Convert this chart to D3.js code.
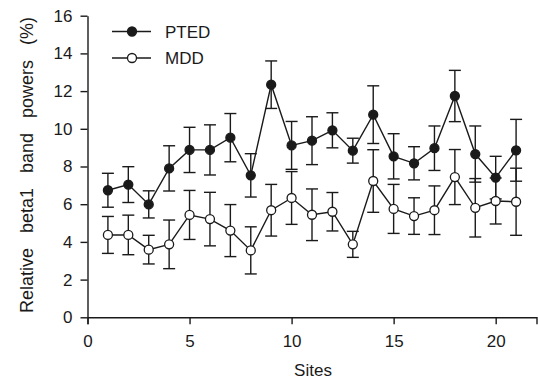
<!DOCTYPE html>
<html>
<head>
<meta charset="utf-8">
<script src="https://cdn.jsdelivr.net/npm/d3@7"></script>
<style>
  body { margin: 0; background: #fff; }
  svg text { font-family: "Liberation Sans", Arial, sans-serif; fill: #1a1a1a; }
</style>
</head>
<body>
<svg id="chart" width="538" height="381"></svg>
<script>
// values
var sites = [1, 2, 3, 4, 5, 6, 7, 8, 9, 10, 11, 12, 13, 14, 15, 16, 17, 18, 19, 20, 21];
var ptedMean = [6.74, 7.04, 5.99, 7.9, 8.88, 8.88, 9.53, 7.53, 12.34, 9.12, 9.37, 9.92, 8.84, 10.75, 8.54, 8.17, 8.97, 11.74, 8.66, 7.41, 8.86];
var ptedSE = [0.9, 0.95, 0.72, 1.2, 1.2, 1.33, 1.28, 1.15, 1.26, 1.27, 1.27, 0.93, 0.66, 1.53, 1.2, 0.88, 1.18, 1.36, 1.49, 1.13, 1.64];
var mddMean = [4.37, 4.37, 3.59, 3.87, 5.43, 5.21, 4.6, 3.55, 5.68, 6.33, 5.44, 5.6, 3.87, 7.23, 5.75, 5.37, 5.68, 7.44, 5.81, 6.17, 6.13];
var mddSE = [0.98, 1.05, 0.76, 1.29, 1.3, 1.42, 1.38, 1.25, 1.37, 1.4, 1.37, 1.02, 0.69, 1.66, 1.3, 0.97, 1.29, 1.46, 1.55, 1.22, 1.78];
var xTicks = [0, 5, 10, 15, 20];
var yTicks = [0, 2, 4, 6, 8, 10, 12, 14, 16];

var svg = d3.select("#chart");
var ink = "#1a1a1a";

var x = d3.scaleLinear().domain([0, 22]).range([87.5, 536.5]);
var y = d3.scaleLinear().domain([0, 16]).range([317.3, 15.7]);

function styleAxis(g) {
  g.selectAll("path, line").attr("stroke", ink).attr("stroke-width", 1.4);
  g.selectAll("text").attr("font-size", "17px").attr("fill", ink)
    .attr("font-family", "'Liberation Sans', Arial, sans-serif");
}

svg.append("g")
    .attr("transform", "translate(0," + y(0) + ")")
    .call(d3.axisBottom(x).tickValues(xTicks).tickSize(7).tickSizeOuter(7).tickPadding(11))
    .call(styleAxis);

svg.append("g")
    .attr("transform", "translate(" + x(0) + ",0)")
    .call(d3.axisLeft(y).tickValues(yTicks).tickSize(7).tickSizeOuter(0).tickPadding(8))
    .call(styleAxis);

var series = [
  {name: "PTED", mean: ptedMean, se: ptedSE, fill: ink},
  {name: "MDD", mean: mddMean, se: mddSE, fill: "#fff"}
];

var line = d3.line()
    .x(function(d) { return x(d[0]); })
    .y(function(d) { return y(d[1]); });

series.forEach(function(s) {
  var pts = sites.map(function(site, i) { return [site, s.mean[i], s.se[i]]; });
  var g = svg.append("g");

  g.append("path")
      .attr("d", line(pts))
      .attr("fill", "none")
      .attr("stroke", ink)
      .attr("stroke-width", 1.4);

  var bars = g.selectAll(".err")
    .data(pts)
    .enter().append("g");
  bars.append("line")
      .attr("x1", function(d) { return x(d[0]); })
      .attr("x2", function(d) { return x(d[0]); })
      .attr("y1", function(d) { return y(d[1] - d[2]); })
      .attr("y2", function(d) { return y(d[1] + d[2]); });
  [-1, 1].forEach(function(sign) {
    bars.append("line")
        .attr("x1", function(d) { return x(d[0]) - 6; })
        .attr("x2", function(d) { return x(d[0]) + 6; })
        .attr("y1", function(d) { return y(d[1] + sign * d[2]); })
        .attr("y2", function(d) { return y(d[1] + sign * d[2]); });
  });
  bars.selectAll("line").attr("stroke", ink).attr("stroke-width", 1.4);
});

// markers go on top of everything
series.forEach(function(s) {
  svg.append("g").selectAll("circle")
    .data(sites)
    .enter().append("circle")
      .attr("cx", function(d) { return x(d); })
      .attr("cy", function(d, i) { return y(s.mean[i]); })
      .attr("r", 4.5)
      .attr("fill", s.fill)
      .attr("stroke", ink)
      .attr("stroke-width", 1.3);
});

// legend
var legend = svg.append("g").selectAll("g")
  .data(series)
  .enter().append("g")
    .attr("transform", function(d, i) { return "translate(0," + (31.5 + i * 26.5) + ")"; });
legend.append("line")
    .attr("x1", 112).attr("x2", 151)
    .attr("stroke", ink).attr("stroke-width", 1.4);
legend.append("circle")
    .attr("cx", 132).attr("r", 4.5)
    .attr("fill", function(d) { return d.fill; })
    .attr("stroke", ink).attr("stroke-width", 1.3);
legend.append("text")
    .attr("x", 165).attr("dy", "0.36em")
    .attr("font-size", "17px")
    .text(function(d) { return d.name; });

svg.append("text")
    .attr("x", 313).attr("y", 376)
    .attr("text-anchor", "middle")
    .attr("font-size", "17px")
    .text("Sites");

svg.append("text")
    .attr("transform", "translate(33,165) rotate(-90)")
    .attr("text-anchor", "middle")
    .attr("font-size", "18px")
    .style("word-spacing", "10px")
    .text("Relative beta1 band powers (%)");
</script>
</body>
</html>
